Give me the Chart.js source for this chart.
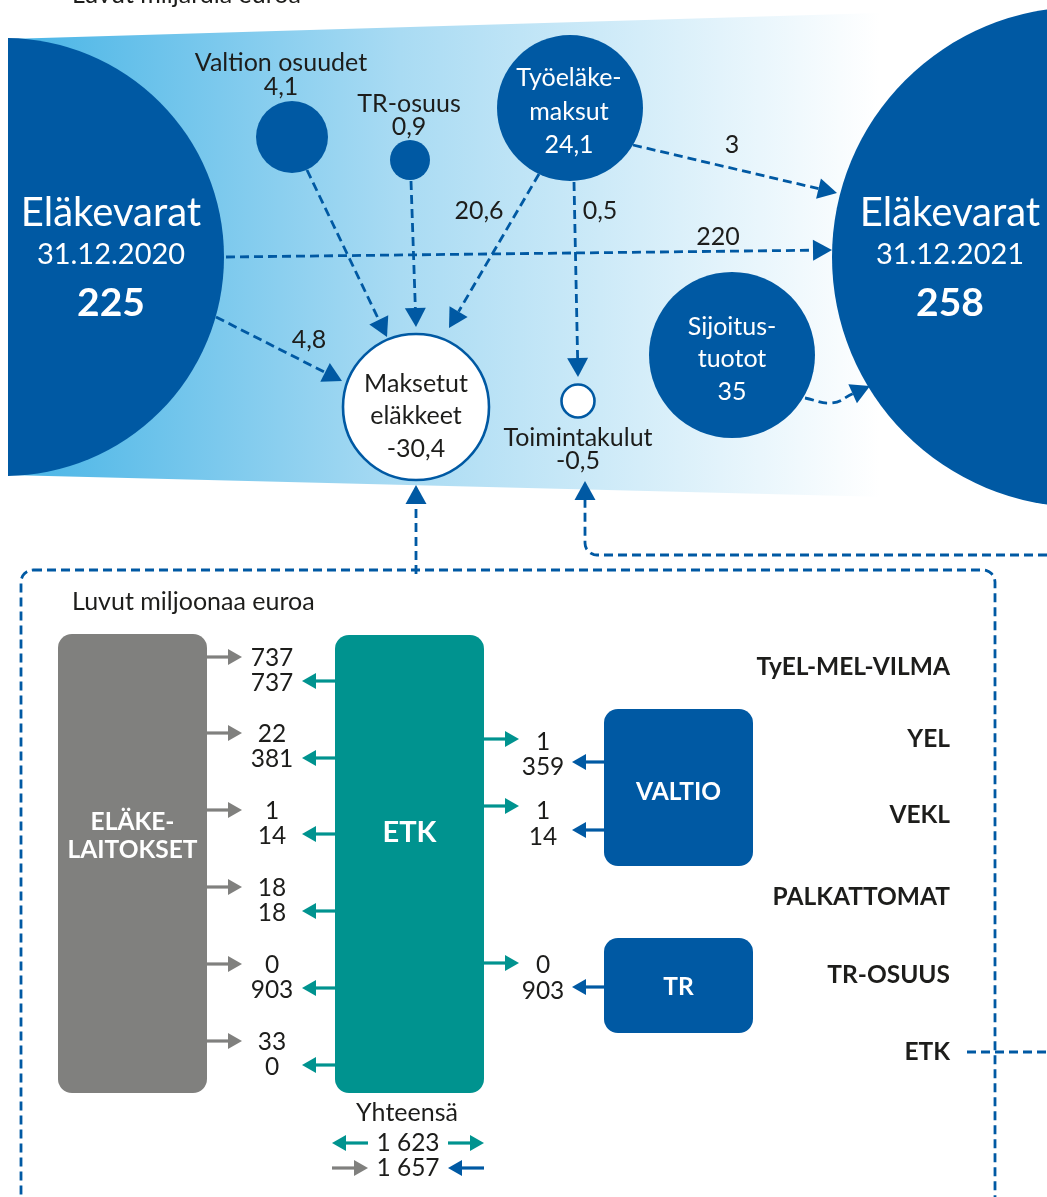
<!DOCTYPE html>
<html>
<head>
<meta charset="utf-8">
<script src="https://cdn.jsdelivr.net/npm/chart.js"></script>
<style>
  html, body { margin: 0; padding: 0; background: #fff; }
  #wrap { width: 1047px; height: 1197px; }
</style>
</head>
<body>
<div id="wrap"><canvas id="flows" width="1047" height="1197"></canvas></div>
<script>
// ---- data (billions, top part) ----
const topUnit = 'Luvut miljardia euroa'
const balanceTitle = 'Eläkevarat'
const balanceDates = ['31.12.2020', '31.12.2021']
const balanceValues = [225, 258]
const flowNames = [['Valtion osuudet'], ['TR-osuus'], ['Työeläke-', 'maksut'], ['Maksetut', 'eläkkeet'], ['Toimintakulut'], ['Sijoitus-', 'tuotot']]
const flowValues = [4.1, 0.9, 24.1, -30.4, -0.5, 35]
const transferValues = [4.8, 220, 20.6, 0.5, 3]

// ---- data (millions, bottom part) ----
const bottomUnit = 'Luvut miljoonaa euroa'
const schemes = ['TyEL-MEL-VILMA', 'YEL', 'VEKL', 'PALKATTOMAT', 'TR-OSUUS', 'ETK']
const institutionsToEtk = [737, 22, 1, 18, 0, 33]
const etkToInstitutions = [737, 381, 14, 18, 903, 0]
const etkToPayers = [1, 1, 0]      // YEL, VEKL, TR-OSUUS
const payersToEtk = [359, 14, 903]
const boxNames = [['ELÄKE-', 'LAITOKSET'], ['ETK'], ['VALTIO'], ['TR']]
const totalLabel = 'Yhteensä'
const totals = [1623, 1657]

// ---- styles ----
const W = 1047, H = 1197
const BLUE = '#0059A3', TEAL = '#00938F', GRAY = '#80807E', INK = '#1d1d1b', SKY = '#47B4E6'
const FONT = 'Lato, "Open Sans", sans-serif'
const TXT = 25, NUM = 24.5, BOLD = 24.5

const fmt = (v) => String(v).replace('.', ',').replace(/\B(?=(\d{3})+(?!\d))/g, ' ')

// ---- layout (pixels == scale values) ----
const band = { top: [[8, 39], [1047, 8]], bottom: [[8, 475], [1047, 501]], fadeTo: 880 }
const balancePos = [{ x: 5, y: 257, r: 219 }, { x: 1082, y: 257, r: 250 }]
const balanceText = [{ x: 111, y: 213 }, { x: 950, y: 213 }]
const flowPos = [
  { x: 292, y: 137, r: 36 },
  { x: 410, y: 160, r: 20 },
  { x: 570, y: 108, r: 73 },
  { x: 416, y: 407, r: 73 },
  { x: 578, y: 401, r: 16.5 },
  { x: 732, y: 355, r: 83 },
]
const flowFill = [BLUE, BLUE, BLUE, '#fff', '#fff', BLUE]
const flowInk = [INK, INK, '#fff', INK, INK, '#fff']
const flowText = [
  { x: 281, y: [63], v: 87 },
  { x: 409, y: [104], v: 127 },
  { x: 569, y: [78, 112], v: 145 },
  { x: 416, y: [384, 416], v: 449 },
  { x: 578, y: [438], v: 461 },
  { x: 732, y: [327, 359], v: 392 },
]
// labelled transfer arrows: 4,8 / 220 / 20,6 / 0,5 / 3
const transferPaths = [
  [[216, 317], [342, 381]],
  [[226, 257], [832, 250]],
  [[539, 174], [449, 328]],
  [[574, 182], [578, 377]],
  [[633, 145], [837, 193]],
]
const transferText = [[309, 340], [718, 237], [479, 211], [600, 211], [732, 145]]
const otherDashed = [
  [[307, 170], [387, 337]],          // valtion osuudet
  [[411, 181], [416, 327]],          // TR-osuus
  [[805, 398], [832, 403], [870, 386]], // sijoitustuotot
  [[416, 574], [416, 485]],          // box -> maksetut
]

const rowGray = [657, 733, 810, 887, 964, 1041]
const rowTeal = [681, 758, 834, 911, 988, 1065]
const rowNumX = 272
const schemeY = [667, 739, 815, 897, 975, 1052]
const payerTeal = [739, 806, 963]
const payerBlue = [762, 830, 987]
const payerNumY = [[742, 767], [811, 837], [965, 991]]
const payerNumX = 543
const boxes = [
  { x: 132.5, top: 634, bottom: 1093, color: GRAY, ty: [822, 850], size: BOLD },
  { x: 409.5, top: 635, bottom: 1093, color: TEAL, ty: [833], size: 29 },
  { x: 678.5, top: 709, bottom: 866, color: BLUE, ty: [792], size: BOLD },
  { x: 678.5, top: 938, bottom: 1033, color: BLUE, ty: [987], size: BOLD },
]

// ---- helpers ----
const DASH_HEAD = { len: 19, half: 10.5 }
const SOLID_HEAD = { len: 14, half: 8 }

function arc(cx, cy, r, a0, a1, steps = 6) {
  const out = []
  for (let i = 0; i <= steps; i++) {
    const a = (a0 + (a1 - a0) * i / steps) * Math.PI / 180
    out.push([cx + r * Math.cos(a), cy + r * Math.sin(a)])
  }
  return out
}

// line ends at the head's base, head is drawn forward to the tip
function toBase(points, head) {
  if (!head) return points
  const n = points.length
  const [ax, ay] = points[n - 2], [bx, by] = points[n - 1]
  const d = Math.hypot(bx - ax, by - ay)
  const out = points.slice(0, n - 1)
  out.push([bx - (bx - ax) / d * head.len, by - (by - ay) / d * head.len])
  return out
}

function dashed(points, withHead = true, tension = 0) {
  const head = withHead ? DASH_HEAD : null
  return {
    type: 'line', showLine: true, order: 8,
    data: toBase(points, head).map(p => ({ x: p[0], y: p[1] })),
    borderColor: BLUE, borderWidth: 2.8, borderDash: [9, 5],
    pointRadius: 0, fill: false, tension,
    head: head && { ...head, color: BLUE },
  }
}

function solid(points, color) {
  return {
    type: 'line', showLine: true, order: 6,
    data: toBase(points, SOLID_HEAD).map(p => ({ x: p[0], y: p[1] })),
    borderColor: color, borderWidth: 3.2,
    pointRadius: 0, fill: false,
    head: { ...SOLID_HEAD, color },
  }
}

// ---- datasets ----
let bandGradient = null
const datasets = []

datasets.push({
  type: 'line', showLine: true, order: 20,
  data: band.top.map(p => ({ x: p[0], y: p[1] })),
  borderWidth: 0, pointRadius: 0, fill: '+1',
  backgroundColor: (ctx) => {
    const chart = ctx.chart
    if (!chart.chartArea) return SKY
    if (!bandGradient) {
      const xs = chart.scales.x
      bandGradient = chart.ctx.createLinearGradient(xs.getPixelForValue(band.top[0][0]), 0, xs.getPixelForValue(band.fadeTo), 0)
      bandGradient.addColorStop(0, SKY)
      bandGradient.addColorStop(0.45, '#A9DBF3')
      bandGradient.addColorStop(1, '#FFFFFF')
    }
    return bandGradient
  },
})
datasets.push({
  type: 'line', showLine: true, order: 20,
  data: band.bottom.map(p => ({ x: p[0], y: p[1] })),
  borderWidth: 0, pointRadius: 0, fill: false,
})

// opening and closing balances
datasets.push({
  type: 'bubble', order: 15,
  data: balancePos.map(p => ({ x: p.x, y: p.y, r: p.r })),
  backgroundColor: BLUE, borderWidth: 0, hoverRadius: 0,
  clip: { left: -8, top: 0, right: 0, bottom: 0 },
})

// dashed flows
transferPaths.forEach(p => datasets.push(dashed(p)))
otherDashed.forEach((p, i) => datasets.push(dashed(p, true, i === 2 ? 0.45 : 0)))
datasets.push(dashed([[1047, 555], [597, 555], ...arc(597, 543, 12, 90, 180).slice(1), [585, 481]]))
datasets.push(dashed([[967, 1052], [1047, 1052]], false))
datasets.push(dashed([
  [33, 570], [983, 570], ...arc(983, 582, 12, -90, 0).slice(1),
  [995, 1198], ...arc(983, 1198, 12, 0, 90).slice(1),
  [33, 1210], ...arc(33, 1198, 12, 90, 180).slice(1),
  [21, 582], ...arc(33, 582, 12, 180, 270).slice(1),
], false))

// flow circles
datasets.push({
  type: 'bubble', order: 5,
  data: flowPos.map(p => ({ x: p.x, y: p.y, r: p.r })),
  backgroundColor: flowFill, borderColor: BLUE,
  borderWidth: flowFill.map(c => (c === BLUE ? 0 : 2.6)), hoverRadius: 0,
})

// boxes
datasets.push({
  type: 'bar', order: 7,
  data: boxes.map(b => ({ x: b.x, y: [b.top, b.bottom] })),
  backgroundColor: boxes.map(b => b.color),
  borderRadius: 14, borderSkipped: false, barThickness: 149, inflateAmount: 0,
})

// solid arrows
rowGray.forEach(y => datasets.push(solid([[207, y], [242, y]], GRAY)))
rowTeal.forEach(y => datasets.push(solid([[335, y], [302, y]], TEAL)))
payerTeal.forEach(y => datasets.push(solid([[484, y], [519, y]], TEAL)))
payerBlue.forEach(y => datasets.push(solid([[604, y], [572, y]], BLUE)))
datasets.push(solid([[368, 1143], [332, 1143]], TEAL))
datasets.push(solid([[448, 1143], [484, 1143]], TEAL))
datasets.push(solid([[332, 1168], [368, 1168]], GRAY))
datasets.push(solid([[484, 1168], [448, 1168]], BLUE))

// ---- texts ----
const texts = []
function addText(str, x, y, size, color = INK, weight = 'normal', align = 'center', baseline = 'middle') {
  texts.push({ str, x, y, size, color, weight, align, baseline })
}

addText(topUnit, 72, 3, TXT, INK, 'normal', 'left', 'alphabetic')
balanceText.forEach((p, i) => {
  addText(balanceTitle, p.x, p.y, 40, '#fff')
  addText(balanceDates[i], p.x, p.y + 42, 29, '#fff')
  addText(String(balanceValues[i]), p.x, p.y + 90, 39, '#fff', 'bold')
})
flowNames.forEach((lines, i) => {
  const t = flowText[i]
  lines.forEach((s, j) => addText(s, t.x, t.y[j], TXT, flowInk[i]))
  addText(fmt(flowValues[i]), t.x, t.v, TXT, flowInk[i])
})
transferValues.forEach((v, i) => addText(fmt(v), transferText[i][0], transferText[i][1], TXT))

addText(bottomUnit, 72, 602, TXT, INK, 'normal', 'left')
schemes.forEach((s, i) => {
  addText(s, 950, schemeY[i], BOLD, INK, 'bold', 'right')
  addText(fmt(institutionsToEtk[i]), rowNumX, rowGray[i] + 1, NUM)
  addText(fmt(etkToInstitutions[i]), rowNumX, rowGray[i] + 26, NUM)
})
etkToPayers.forEach((v, i) => {
  addText(fmt(v), payerNumX, payerNumY[i][0], NUM)
  addText(fmt(payersToEtk[i]), payerNumX, payerNumY[i][1], NUM)
})
boxNames.forEach((lines, i) => {
  lines.forEach((s, j) => addText(s, boxes[i].x, boxes[i].ty[j], boxes[i].size, '#fff', 'bold'))
})
addText(totalLabel, 407, 1113, TXT)
addText(fmt(totals[0]), 408, 1143, NUM)
addText(fmt(totals[1]), 408, 1168, NUM)

const drawExtras = {
  id: 'drawExtras',
  afterDatasetsDraw(chart) {
    const c = chart.ctx
    chart.data.datasets.forEach((ds, i) => {
      if (!ds.head) return
      const pts = chart.getDatasetMeta(i).data
      const a = pts[pts.length - 2], b = pts[pts.length - 1]
      const ang = Math.atan2(b.y - a.y, b.x - a.x)
      c.save()
      c.translate(b.x, b.y)
      c.rotate(ang)
      c.beginPath()
      c.moveTo(ds.head.len, 0)
      c.lineTo(0, -ds.head.half)
      c.lineTo(0, ds.head.half)
      c.closePath()
      c.fillStyle = ds.head.color
      c.fill()
      c.restore()
    })
    const xs = chart.scales.x, ys = chart.scales.y
    texts.forEach(t => {
      c.save()
      c.font = `${t.weight} ${t.size}px ${FONT}`
      c.fillStyle = t.color
      c.textAlign = t.align
      c.textBaseline = t.baseline
      c.fillText(t.str, xs.getPixelForValue(t.x), ys.getPixelForValue(t.y))
      c.restore()
    })
  },
}

new Chart(document.getElementById('flows'), {
  type: 'scatter',
  data: { datasets },
  options: {
    responsive: false,
    animation: false,
    events: [],
    layout: { padding: 0, autoPadding: false },
    plugins: { legend: { display: false }, tooltip: { enabled: false } },
    scales: {
      x: { type: 'linear', min: 0, max: W, offset: false, display: false },
      y: { type: 'linear', min: 0, max: H, offset: false, reverse: true, display: false },
    },
  },
  plugins: [drawExtras],
})
</script>
</body>
</html>
